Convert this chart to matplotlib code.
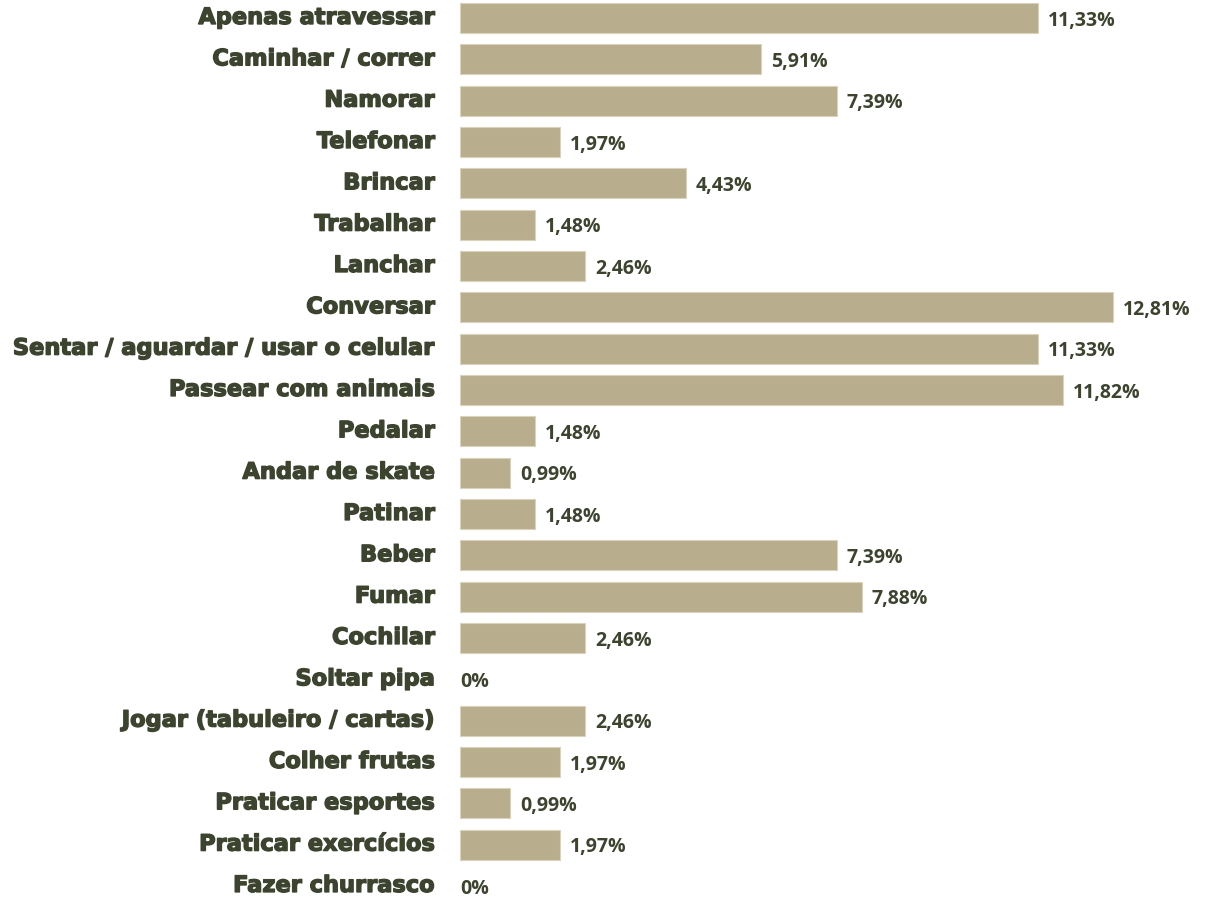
import matplotlib
matplotlib.use("Agg")
import matplotlib.pyplot as plt
import matplotlib.patheffects as pe

categories = [
    "Apenas atravessar", "Caminhar / correr", "Namorar", "Telefonar", "Brincar",
    "Trabalhar", "Lanchar", "Conversar", "Sentar / aguardar / usar o celular",
    "Passear com animais", "Pedalar", "Andar de skate", "Patinar", "Beber",
    "Fumar", "Cochilar", "Soltar pipa", "Jogar (tabuleiro / cartas)",
    "Colher frutas", "Praticar esportes", "Praticar exercícios", "Fazer churrasco",
]
values = [11.33, 5.91, 7.39, 1.97, 4.43, 1.48, 2.46, 12.81, 11.33, 11.82, 1.48,
          0.99, 1.48, 7.39, 7.88, 2.46, 0.0, 2.46, 1.97, 0.99, 1.97, 0.0]
value_labels = [("%.2f" % v).replace(".", ",") + "%" if v > 0 else "0%" for v in values]

W, H = 1211, 900
fig = plt.figure(figsize=(W / 100, H / 100), dpi=100)
ax = fig.add_axes([460 / W, 0, 751 / W, 1])

bar_color = "#b8ad8c"
text_color = "#3c4430"

y = list(range(len(categories)))
bars = ax.barh(y, values, height=0.73, color=bar_color, edgecolor="#d8d2bf", linewidth=0.8)
for b, v in zip(bars, values):
    if v == 0:
        b.set_linewidth(0)

ax.set_xlim(0, 751 / 51.0)
ax.set_ylim(21.34, -0.435)
for s in ax.spines.values():
    s.set_visible(False)
ax.set_xticks([])
ax.set_yticks([])

for i, (v, lab) in enumerate(zip(values, value_labels)):
    ax.annotate(lab, xy=(v, i), xytext=(7 if v > 0 else 0, -2), textcoords="offset points",
                ha="left", va="center", fontsize=14, fontweight="bold",
                color=text_color, family=["Open Sans", "DejaVu Sans"])

for i, c in enumerate(categories):
    ax.annotate(c, xy=(0, i), xytext=(-18, 0), textcoords="offset points",
                ha="right", va="center", fontsize=16.2, fontweight="bold",
                color=text_color, family=["DejaVu Sans"],
                path_effects=[pe.withStroke(linewidth=1.0, foreground=text_color)],
                annotation_clip=False)

fig.savefig("out.png", dpi=100)
